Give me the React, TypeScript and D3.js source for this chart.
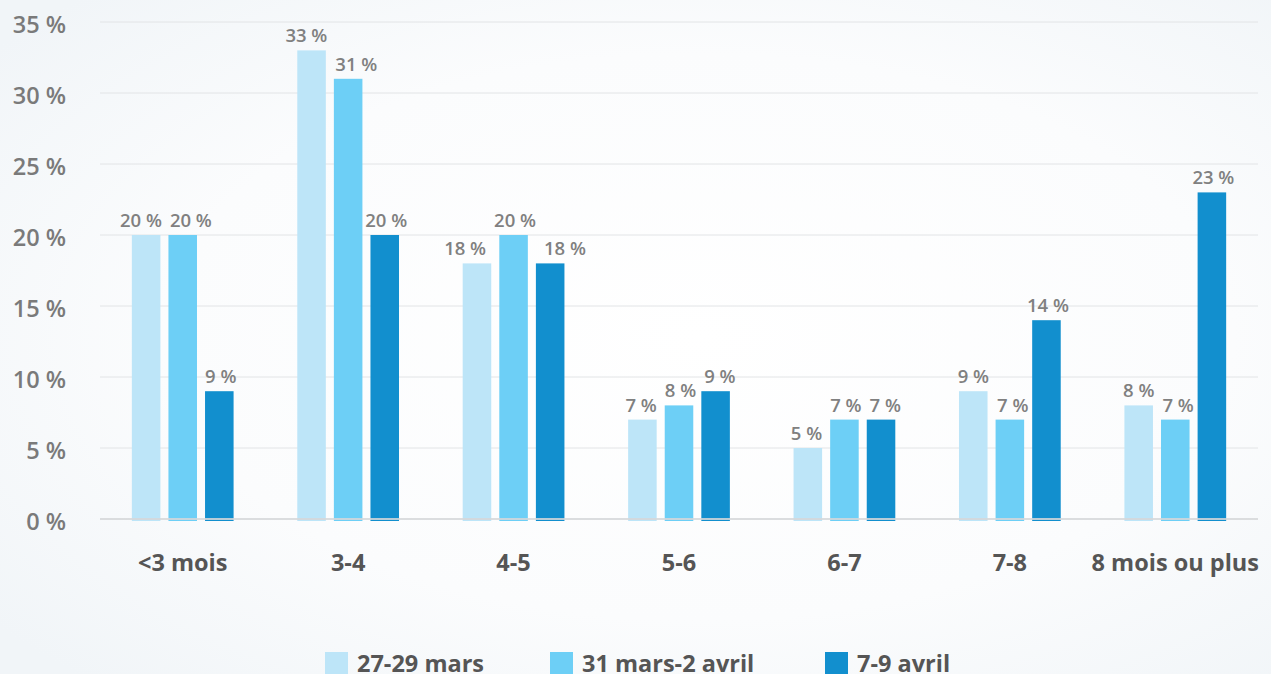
import React, { useEffect, useRef } from "react";
import * as d3 from "d3";

// categories + series
const categories = ["<3 mois", "3-4", "4-5", "5-6", "6-7", "7-8", "8 mois ou plus"];
const seriesNames = ["27-29 mars", "31 mars-2 avril", "7-9 avril"];
const mars27 = [20, 33, 18, 7, 5, 9, 8];
const mars31 = [20, 31, 20, 8, 7, 7, 7];
const avril7 = [9, 20, 18, 9, 7, 14, 23];
const yTicks = [0, 5, 10, 15, 20, 25, 30, 35];
const colors = ["#bde5f8", "#6dcff6", "#128fce"];

const W = 1271;
const H = 674;

export default function App() {
  const ref = useRef<SVGSVGElement>(null);

  useEffect(() => {
    const svg = d3.select(ref.current);
    svg.selectAll("*").remove();

    const left = 100, right = 1258, top = 22, bottom = 519;
    const series = [mars27, mars31, avril7];

    // background
    const defs = svg.append("defs");
    const bg = defs.append("radialGradient").attr("id", "bg")
      .attr("cx", "55%").attr("cy", "50%").attr("r", "70%");
    bg.append("stop").attr("offset", "0%").attr("stop-color", "#ffffff");
    bg.append("stop").attr("offset", "60%").attr("stop-color", "#fbfcfd");
    bg.append("stop").attr("offset", "100%").attr("stop-color", "#f1f5f8");
    svg.append("rect").attr("width", W).attr("height", H).attr("fill", "url(#bg)");

    const x0 = d3.scaleBand().domain(categories).range([left, right])
      .paddingInner(0.385).paddingOuter(0.1925);
    const x1 = d3.scaleBand().domain(seriesNames).range([0, x0.bandwidth()])
      .paddingInner(0.22).paddingOuter(0);
    const y = d3.scaleLinear().domain([0, 35]).range([bottom, top]);

    const font = "'Open Sans', 'Noto Sans', sans-serif";

    // grid
    svg.append("g").selectAll("line").data(yTicks.filter(t => t > 0)).enter().append("line")
      .attr("x1", left).attr("x2", right)
      .attr("y1", d => y(d)).attr("y2", d => y(d))
      .attr("stroke", "#e2e4e6").attr("stroke-width", 1);

    // y labels
    svg.append("g").selectAll("text").data(yTicks).enter().append("text")
      .attr("x", 66).attr("y", d => y(d) + 11)
      .attr("text-anchor", "end")
      .style("font-family", font).style("font-size", "23.5px").style("font-weight", 600)
      .attr("fill", "#7a7a7a")
      .text(d => `${d} %`);

    // bars
    const groups = svg.append("g").selectAll("g").data(categories).enter().append("g")
      .attr("transform", c => `translate(${x0(c)},0)`);

    groups.selectAll("rect")
      .data((c, i) => series.map((s, k) => ({ k, v: s[i] })))
      .enter().append("rect")
      .attr("x", d => x1(seriesNames[d.k])!)
      .attr("width", x1.bandwidth())
      .attr("y", d => y(d.v))
      .attr("height", d => bottom + 2 - y(d.v))
      .attr("fill", d => colors[d.k]);

    // baseline
    svg.append("line").attr("x1", left).attr("x2", right)
      .attr("y1", bottom).attr("y2", bottom)
      .attr("stroke", "#d6d8da").attr("stroke-width", 2).attr("opacity", 0.85);

    // value labels, spread apart when they crowd each other
    groups.each(function (c, i) {
      const g = d3.select(this);
      const items = series.map((s, k) => ({
        k, v: s[i],
        cx: x1(seriesNames[k])! + x1.bandwidth() / 2,
        w: 0,
      }));
      const texts = g.selectAll("text.val").data(items).enter().append("text").attr("class", "val")
        .attr("y", d => y(d.v) - 8)
        .attr("text-anchor", "middle")
        .style("font-family", font).style("font-size", "18.5px").style("font-weight", 600)
        .attr("fill", "#808080")
        .text(d => `${d.v} %`);
      texts.each(function (d) { d.w = (this as SVGTextElement).getComputedTextLength(); });
      for (let it = 0; it < 20; it++) {
        for (let j = 0; j < items.length - 1; j++) {
          const a = items[j], b = items[j + 1];
          if (Math.abs(y(a.v) - y(b.v)) > 30) continue;
          const need = (a.w + b.w) / 2 + 8;
          const dist = b.cx - a.cx;
          if (dist < need) {
            const push = (need - dist) / 2;
            a.cx -= push;
            b.cx += push;
          }
        }
      }
      texts.attr("x", d => d.cx + 1.5);
    });

    // x labels
    svg.append("g").selectAll("text").data(categories).enter().append("text")
      .attr("x", c => x0(c)! + x0.bandwidth() / 2)
      .attr("y", 571)
      .attr("text-anchor", "middle")
      .style("font-family", font).style("font-size", "23.5px").style("font-weight", 700)
      .attr("fill", "#555555")
      .text(c => c);

    // legend
    const legendX = [325, 550, 825];
    const leg = svg.append("g").selectAll("g").data(seriesNames).enter().append("g")
      .attr("transform", (d, i) => `translate(${legendX[i]},652)`);
    leg.append("rect").attr("width", 23).attr("height", 23).attr("fill", (d, i) => colors[i]);
    leg.append("text").attr("x", 32).attr("y", 20)
      .style("font-family", font).style("font-size", "23.5px").style("font-weight", 700)
      .attr("fill", "#555555")
      .text(d => d);
  }, []);

  return (
    <svg ref={ref} width={W} height={H}
      style={{ position: "absolute", left: 0, top: 0, display: "block" }} />
  );
}
